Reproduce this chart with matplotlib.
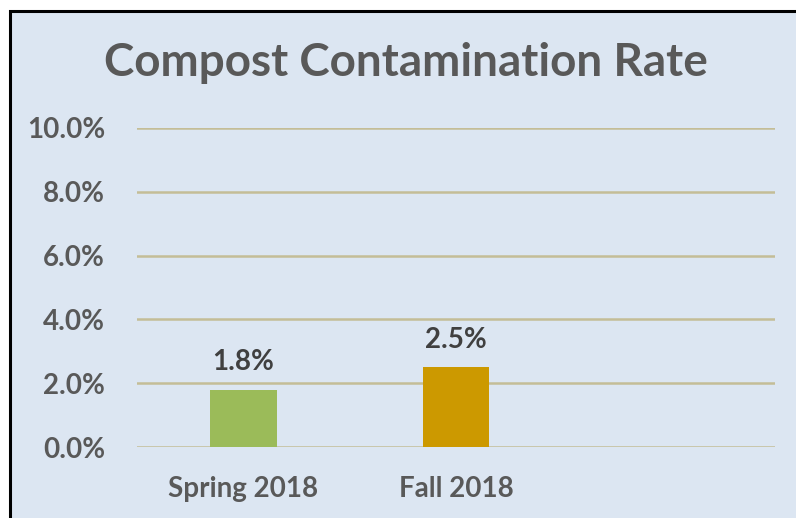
import matplotlib.pyplot as plt
from matplotlib.patches import Rectangle

# Chart data
categories = ['Spring 2018', 'Fall 2018', '']
rates = [1.8, 2.5, 0]
bar_colors = ['#9BBB59', '#CC9900', '#CC9900']
y_ticks = [0, 2, 4, 6, 8, 10]

plt.rcParams['font.family'] = ['Lato', 'DejaVu Sans']

fig = plt.figure(figsize=(7.96, 5.18), dpi=100)
fig.patch.set_facecolor('white')

# background panel with black border (top and left show)
bg = Rectangle((9.5 / 796, -0.5), 2, (518 - 11) / 518 + 0.5,
               transform=fig.transFigure, facecolor='#DCE6F2',
               edgecolor='black', linewidth=2.2, zorder=-5)
fig.add_artist(bg)

ax = fig.add_axes([137 / 796, 71 / 518, 638 / 796, 319 / 518])
ax.set_facecolor('none')
ax.set_zorder(2)

x = range(len(categories))
bars = ax.bar(x, rates, width=0.315, color=bar_colors, zorder=3)

for i, v in enumerate(rates[:2]):
    ax.text(i, v + 0.45, f'{v:.1f}%', ha='center', va='bottom',
            fontsize=20, fontweight='bold', color='#404040')

ax.set_xlim(-0.5, 2.5)
ax.set_ylim(0, 10)
ax.set_yticks(y_ticks)
ax.set_yticklabels([f'{t:.1f}%' for t in y_ticks])
ax.set_xticks(list(x))
ax.set_xticklabels(categories)
ax.tick_params(axis='both', length=0, labelsize=20, labelcolor='#595959')
ax.tick_params(axis='y', pad=23)
ax.tick_params(axis='x', pad=21)
for lab in ax.get_xticklabels() + ax.get_yticklabels():
    lab.set_fontweight('bold')

ax.grid(axis='y', color='#C4BD97', linewidth=1.8, zorder=1)
ax.set_axisbelow(True)
for s in ax.spines.values():
    s.set_visible(False)

fig.text(406 / 796, 1 - 63 / 518, 'Compost Contamination Rate', ha='center',
         va='center', fontsize=33, fontweight='bold', color='#595959')

plt.savefig('out.png', dpi=100)
